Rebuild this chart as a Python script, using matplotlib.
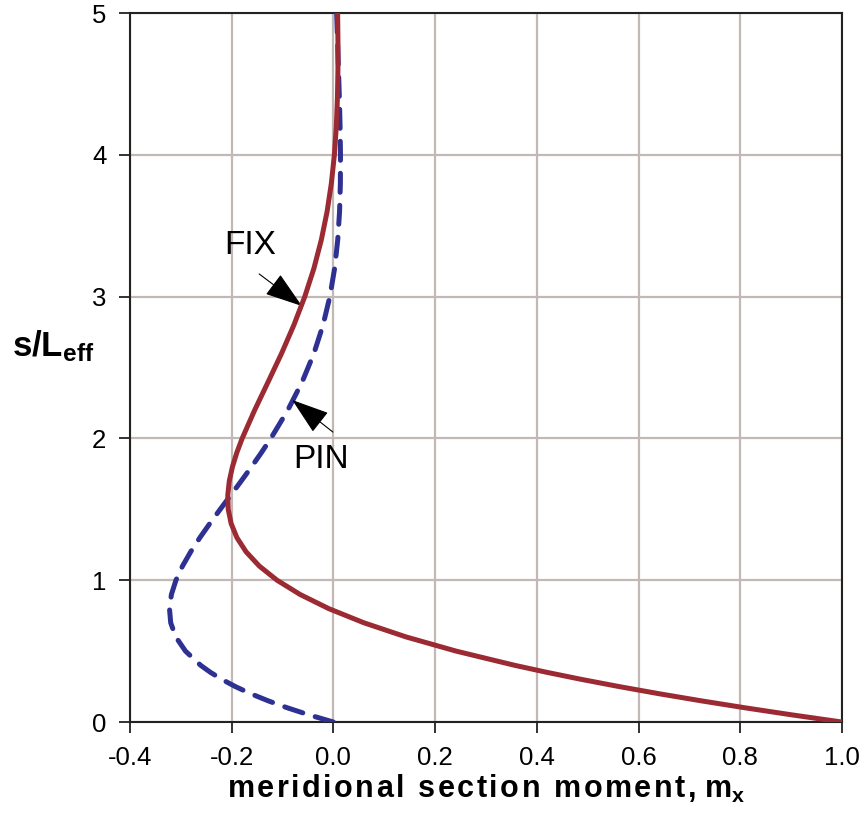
import matplotlib.pyplot as plt
import numpy as np

plt.rcParams['font.family'] = ['Liberation Sans', 'DejaVu Sans']
plt.rcParams['mathtext.fontset'] = 'custom'
plt.rcParams['mathtext.rm'] = 'Liberation Sans'
plt.rcParams['mathtext.bf'] = 'Liberation Sans:bold'
plt.rcParams['mathtext.it'] = 'Liberation Sans:italic'

# s/Leff positions
s_vals = [0.0, 0.05, 0.1, 0.15, 0.2, 0.25, 0.3, 0.35, 0.4, 0.5, 0.6, 0.7, 0.8, 0.9,
          1.0, 1.1, 1.2, 1.3, 1.4, 1.5, 1.6, 1.7, 1.8, 1.9, 2.0, 2.2, 2.4, 2.6,
          2.8, 3.0, 3.2, 3.4, 3.6, 3.8, 4.0, 4.2, 4.4, 4.6, 4.8, 5.0]

# FIX (clamped base) moment
m_fix = [1.0, 0.9025, 0.8100, 0.7225, 0.6397, 0.5619, 0.4888, 0.4204, 0.3564,
         0.2415, 0.1431, 0.0599, -0.0093, -0.0657, -0.1108, -0.1457, -0.1716,
         -0.1897, -0.2011, -0.2068, -0.2077, -0.2047, -0.1985, -0.1899, -0.1794,
         -0.1548, -0.1282, -0.1019, -0.0777, -0.0563, -0.0383, -0.0238, -0.0124,
         -0.0040, 0.0019, 0.0057, 0.0079, 0.0089, 0.0089, 0.0083]

# PIN (pinned base) moment
m_pin = [0.0, -0.0476, -0.0903, -0.1286, -0.1627, -0.1927, -0.2189, -0.2416,
         -0.2610, -0.2908, -0.3099, -0.3199, -0.3223, -0.3185, -0.3096, -0.2967,
         -0.2807, -0.2626, -0.2430, -0.2226, -0.2018, -0.1812, -0.1610, -0.1416,
         -0.1231, -0.0896, -0.0613, -0.0383, -0.0204, -0.0070, 0.0024, 0.0085,
         0.0121, 0.0137, 0.0139, 0.0131, 0.0117, 0.0100, 0.0082, 0.0064]

x_ticks = [-0.4, -0.2, 0.0, 0.2, 0.4, 0.6, 0.8, 1.0]
y_ticks = [0, 1, 2, 3, 4, 5]

fig = plt.figure(figsize=(8.63, 8.25), dpi=100)
ax = fig.add_axes([0.1506, 0.1248, 0.8251, 0.8594])

ax.plot(m_pin, s_vals, color='#2e3192', lw=3.6, ls=(0, (3.8, 2.6)),
        dash_capstyle='round', zorder=3)
ax.plot(m_fix, s_vals, color='#9b2a33', lw=3.6, solid_capstyle='butt', zorder=4)

ax.set_xlim(-0.4, 1.0)
ax.set_ylim(0, 5)
ax.set_xticks(x_ticks)
ax.set_xticklabels(['%.1f' % v for v in x_ticks])
ax.set_yticks(y_ticks)
ax.grid(True, color='#c2b8b6', lw=1.6)
ax.set_axisbelow(True)
for sp in ax.spines.values():
    sp.set_color('#222222')
    sp.set_linewidth(1.5)
ax.tick_params(direction='out', length=8, width=1.3, labelsize=18.5, pad=9,
               color='#222222')

hs = '\u200a'
xl = hs.join('meridional section moment,') + ' ' + r'$\mathbf{m_x}$'
ax.set_xlabel(xl, fontsize=22, fontweight='bold', labelpad=2)
ax.set_ylabel(r'$\mathbf{s/L_{eff}}$', fontsize=25, rotation=0)
ax.yaxis.set_label_coords(-0.108, 0.505)

arr = dict(arrowstyle='-|>,head_length=1.2,head_width=0.4', color='black',
           lw=0.8, shrinkA=0, shrinkB=0, mutation_scale=20)
ax.annotate('', xy=(-0.062, 2.934), xytext=(-0.146, 3.16), arrowprops=arr)
ax.text(-0.164, 3.364, 'FIX', fontsize=24, ha='center', va='center')
ax.annotate('', xy=(-0.081, 2.271), xytext=(-0.001, 2.045), arrowprops=arr)
ax.text(-0.0245, 1.848, 'PIN', fontsize=24, ha='center', va='center')

fig.savefig('out.png', dpi=100)
